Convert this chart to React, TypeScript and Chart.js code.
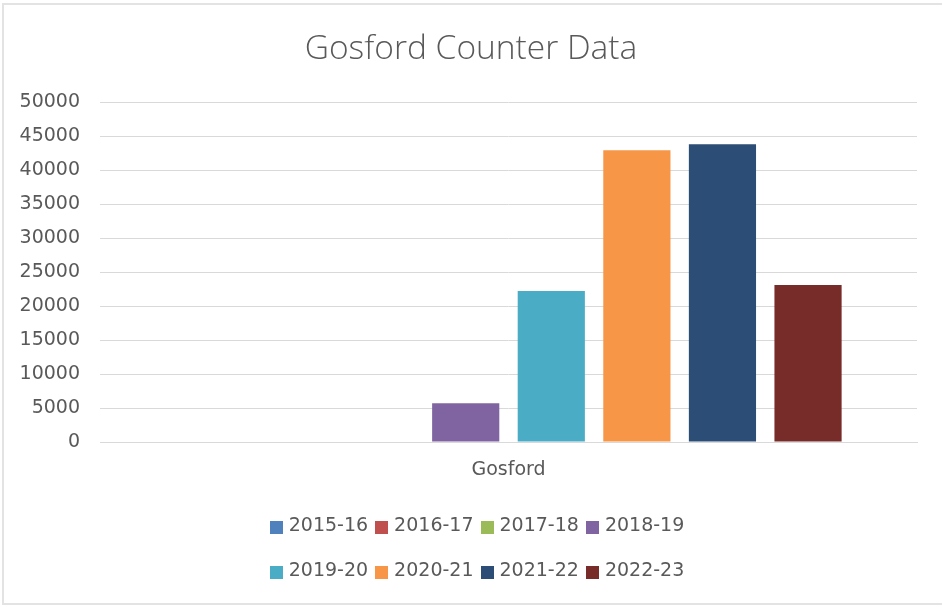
import React, { useEffect, useRef } from "react";
import { Chart, registerables } from "chart.js";

Chart.register(...registerables);

const chartTitle = "Gosford Counter Data";
const categories = ["Gosford"];
const seriesLabels = ["2015-16", "2016-17", "2017-18", "2018-19", "2019-20", "2020-21", "2021-22", "2022-23"];
const seriesValues: (number | null)[] = [null, null, null, 5700, 22200, 42900, 43800, 23100];
const seriesColors = ["#4F81BD", "#C0504D", "#9BBB59", "#8064A2", "#4BACC6", "#F79646", "#2C4D75", "#772C2A"];
const yTickValues = [0, 5000, 10000, 15000, 20000, 25000, 30000, 35000, 40000, 45000, 50000];

const TEXT_COLOR = "#595959";
const GRID_COLOR = "#d9d9d9";

const legendPlugin = {
  id: "excelLegend",
  afterDraw(chart: any) {
    const ctx = chart.ctx as CanvasRenderingContext2D;
    const items = chart.data.datasets.map((ds: any) => ({ label: ds.label as string, color: ds.backgroundColor as string }));
    const perRow = 4;
    const box = 13;
    const gapBoxText = 6;
    const gapItems = 7;
    const rowGap = 45;
    ctx.save();
    ctx.font = "19px 'DejaVu Sans'";
    ctx.textBaseline = "middle";
    ctx.textAlign = "left";
    for (let r = 0; r * perRow < items.length; r++) {
      const row = items.slice(r * perRow, (r + 1) * perRow);
      const widths = row.map((it: any) => box + gapBoxText + ctx.measureText(it.label).width);
      const total = widths.reduce((a: number, b: number) => a + b, 0) + gapItems * (row.length - 1);
      let x = chart.width / 2 + 6 - total / 2;
      const y = chart.chartArea.bottom + 85 + r * rowGap;
      row.forEach((it: any, i: number) => {
        ctx.fillStyle = it.color;
        ctx.fillRect(Math.round(x), Math.round(y - box / 2), box, box);
        ctx.fillStyle = TEXT_COLOR;
        ctx.fillText(it.label, x + box + gapBoxText, y - 1);
        x += widths[i] + gapItems;
      });
    }
    ctx.restore();
  },
};

export default function App() {
  const canvasRef = useRef<HTMLCanvasElement | null>(null);

  useEffect(() => {
    if (!canvasRef.current) return;
    Chart.defaults.font.family = "'DejaVu Sans'";
    const chart = new Chart(canvasRef.current, {
      type: "bar",
      data: {
        labels: categories,
        datasets: seriesLabels.map((label, i) => ({
          label,
          data: [seriesValues[i]],
          backgroundColor: seriesColors[i],
          borderWidth: 0,
          categoryPercentage: 0.838,
          barPercentage: 0.785,
        })),
      },
      options: {
        animation: false,
        responsive: true,
        maintainAspectRatio: false,
        layout: { padding: { left: 0, right: 0, top: 0, bottom: 114 } },
        plugins: {
          legend: { display: false },
          tooltip: { enabled: false },
          title: {
            display: true,
            text: chartTitle,
            color: TEXT_COLOR,
            font: { family: "'Open Sans'", size: 33.5, weight: "300" as any },
            padding: { top: 29, bottom: 32.8 },
          },
        },
        scales: {
          x: {
            grid: { display: false, drawTicks: false },
            border: { display: true, color: GRID_COLOR, width: 1 },
            ticks: { color: TEXT_COLOR, font: { size: 19 }, padding: 17 },
            afterFit: (scale: any) => {
              scale.height = 50;
            },
          },
          y: {
            min: 0,
            max: 50000,
            grid: { color: GRID_COLOR, lineWidth: 1, drawTicks: false },
            border: { display: false },
            ticks: {
              color: TEXT_COLOR,
              font: { size: 19 },
              padding: 20,
              stepSize: 5000,
              callback: (v: any) => String(v),
            },
            afterBuildTicks: (scale: any) => {
              scale.ticks = yTickValues.map((v) => ({ value: v }));
            },
            afterFit: (scale: any) => {
              scale.width = 100;
            },
          },
          yRightSpace: {
            position: "right",
            display: true,
            min: 0,
            max: 50000,
            grid: { display: false, drawTicks: false },
            border: { display: false },
            ticks: { display: false },
            afterFit: (scale: any) => {
              scale.width = 25;
            },
          },
        },
      },
      plugins: [legendPlugin],
    });
    return () => chart.destroy();
  }, []);

  return (
    <>
      <div
        style={{
          position: "absolute",
          left: 2,
          top: 3,
          width: 960,
          height: 602,
          boxSizing: "border-box",
          border: "2px solid #e3e3e3",
          background: "#ffffff",
        }}
      />
      <div style={{ position: "absolute", left: 0, top: 0, width: 942, height: 606 }}>
        <canvas ref={canvasRef} />
      </div>
    </>
  );
}
